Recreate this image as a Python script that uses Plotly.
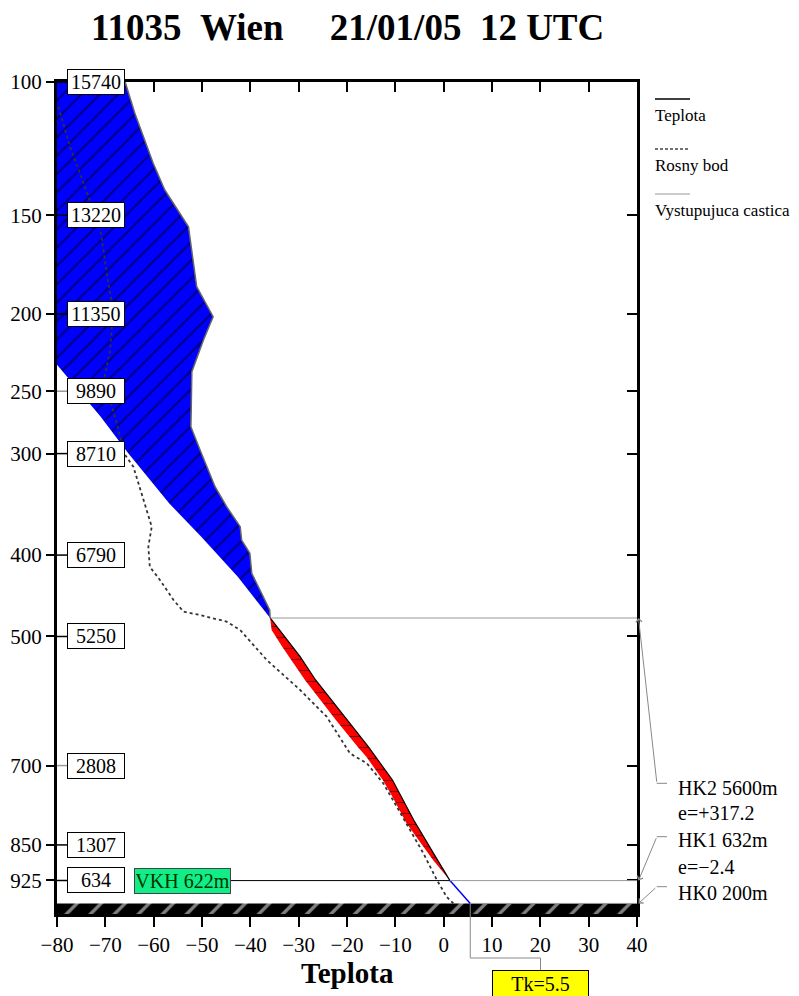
import plotly.graph_objects as go

# ---------------- data ----------------
TITLE = "11035\u00a0\u00a0Wien\u00a0\u00a0\u00a0\u00a0\u00a021/01/05\u00a0\u00a012 UTC"
PRESSURE_LABELS = ["100", "150", "200", "250", "300", "400", "500", "700", "850", "925"]
LEVEL_HEIGHTS = [15740, 13220, 11350, 9890, 8710, 6790, 5250, 2808, 1307, 634]
X_TICKS = [-80, -70, -60, -50, -40, -30, -20, -10, 0, 10, 20, 30, 40]

# environment temperature (Teplota), top -> surface
ENV_H = [15740, 15148, 14202, 13697, 13002, 11867, 11300, 10859, 10259, 9219, 8778, 8084,
         7706, 7328, 7075, 6824, 6445, 6129, 5751, 5600, 5435, 4868, 4427, 4048, 3670, 3165,
         2535, 1778, 1148, 632, 200]
ENV_T = [-65.9, -63.9, -60.1, -57.7, -52.8, -51.1, -47.7, -49.7, -52.1, -52.3, -50.4, -47.3,
         -44.9, -42.1, -41.8, -40.1, -39.7, -38.0, -36.0, -35.9, -34.5, -29.7, -26.5, -23.2, -20.1, -15.6,
         -10.6, -6.2, -2.1, 1.3, 5.5]

# rising parcel (Vystupujuca castica), surface -> top
PARCEL_H = [200, 632, 1022, 1716, 2251, 2535, 2976, 3165, 3670, 4238, 4427, 5057, 5373, 5600,
            6380, 7140, 7770, 8720, 9410, 10390]
PARCEL_T = [5.5, 1.3, -2.2, -7.7, -10.8, -12.6, -16.0, -17.8, -22.3, -27.0, -28.7, -33.4, -35.6, -35.9,
            -42.6, -50.2, -56.8, -65.3, -71.0, -80.0]

# dew point (Rosny bod), top -> surface
DEW_H = [15272, 14516, 13570, 13002, 12121, 11426, 10670, 10100, 9600, 9030, 8683, 8462, 7832,
         7327, 6949, 6570, 6319, 5940, 5719, 5656, 5530, 5373, 4805, 4238, 3733, 3040, 2851,
         2473, 2157, 1589, 1148, 643, 327, 200]
DEW_T = [-79.7, -77.3, -73.5, -71.1, -69.7, -68.4, -69.0, -70.3, -68.6, -67.0, -65.9, -64.2, -62.1,
         -60.4, -61.1, -60.8, -58.7, -55.9, -53.8, -50.4, -44.9, -42.1, -36.6, -29.7, -24.2, -19.4, -15.9,
         -12.5, -10.5, -7.0, -4.2, -1.4, 0.6, 2.0]

HK0_H, HK1_H, HK2_H = 200, 632, 5600
E_HK1, E_HK2 = -2.4, 317.2
VKH_H = 622
TK = 5.5

X_MIN, X_MAX = -80, 40
H_MIN, H_TOP = 0, 15740

# ---------------- geometry helpers (page pixels; page body has an 8px margin) ----------------
OFF = 8
FW, FH = 799 - OFF, 996 - OFF
PLOT_L, PLOT_R, PLOT_T, PLOT_B = 57, 637, 82, 914
ML = PLOT_L - OFF
MT = PLOT_T - OFF
MR = OFF + FW - PLOT_R
MB = OFF + FH - PLOT_B
PW = PLOT_R - PLOT_L
PH = PLOT_B - PLOT_T


def px_x(px):
    return (px - PLOT_L) / PW


def px_y(py):
    return (PLOT_B - py) / PH


def dx(x):
    return (x - X_MIN) / (X_MAX - X_MIN)


def dy(h):
    return (h - H_MIN) / (H_TOP - H_MIN)


SERIF = "Liberation Serif, Times New Roman, serif"

i_apex = ENV_H.index(HK2_H)
i_lcl = ENV_H.index(HK1_H)
p_lcl = PARCEL_H.index(HK1_H)
p_apex = PARCEL_H.index(HK2_H)

fig = go.Figure()

# ground bar
fig.add_trace(go.Scatter(
    x=[X_MIN, X_MAX, X_MAX, X_MIN, X_MIN], y=[H_MIN, H_MIN, HK0_H, HK0_H, H_MIN],
    fill="toself", mode="lines", line=dict(width=0), fillcolor="black",
    fillpattern=dict(shape="/", bgcolor="black", fgcolor="white", size=17, solidity=0.2),
    hoverinfo="skip"))

# blue (negative) area above HK2
bx = ENV_T[:i_apex + 1] + PARCEL_T[p_apex:] + [X_MIN, ENV_T[0]]
by = ENV_H[:i_apex + 1] + PARCEL_H[p_apex:] + [H_TOP, ENV_H[0]]
fig.add_trace(go.Scatter(
    x=bx, y=by, fill="toself", mode="lines", line=dict(width=0), fillcolor="blue",
    fillpattern=dict(shape="/", bgcolor="blue", fgcolor="black", size=13, solidity=0.15),
    hoverinfo="skip"))

# red area between HK1 and HK2
rx = ENV_T[i_apex:i_lcl + 1] + PARCEL_T[p_lcl:p_apex + 1]
ry = ENV_H[i_apex:i_lcl + 1] + PARCEL_H[p_lcl:p_apex + 1]
fig.add_trace(go.Scatter(
    x=rx, y=ry, fill="toself", mode="lines", line=dict(width=0), fillcolor="red",
    fillpattern=dict(shape="-", bgcolor="red", fgcolor="black", size=11, solidity=0.1),
    hoverinfo="skip"))

# dew point
fig.add_trace(go.Scatter(x=DEW_T, y=DEW_H, mode="lines",
                         line=dict(color="#333333", width=1.8, dash="3px,3px"), hoverinfo="skip"))
# temperature curve pieces
fig.add_trace(go.Scatter(x=ENV_T[:i_apex + 1], y=ENV_H[:i_apex + 1], mode="lines",
                         line=dict(color="#666666", width=1.5), hoverinfo="skip"))
fig.add_trace(go.Scatter(x=ENV_T[i_apex:i_lcl + 1], y=ENV_H[i_apex:i_lcl + 1], mode="lines",
                         line=dict(color="black", width=1.2), hoverinfo="skip"))
fig.add_trace(go.Scatter(x=PARCEL_T[:p_lcl + 1], y=PARCEL_H[:p_lcl + 1], mode="lines",
                         line=dict(color="blue", width=1.5), hoverinfo="skip"))

# invisible trace for mirrored axes
fig.add_trace(go.Scatter(x=[X_MIN], y=[H_MIN], xaxis="x2", yaxis="y2", mode="markers",
                         marker=dict(opacity=0), hoverinfo="skip"))

shapes = []
# horizontal level lines
shapes.append(dict(type="line", xref="x", yref="y", x0=ENV_T[i_apex], x1=X_MAX, y0=HK2_H, y1=HK2_H,
                   line=dict(color="#999999", width=1)))
shapes.append(dict(type="line", xref="x", yref="y", x0=-54, x1=ENV_T[i_lcl], y0=HK1_H, y1=HK1_H,
                   line=dict(color="black", width=1)))
shapes.append(dict(type="line", xref="x", yref="y", x0=ENV_T[i_lcl], x1=X_MAX, y0=HK1_H, y1=HK1_H,
                   line=dict(color="#999999", width=1)))
shapes.append(dict(type="line", xref="x", yref="y", x0=TK, x1=X_MAX, y0=HK0_H, y1=HK0_H,
                   line=dict(color="#999999", width=1)))

# connectors from left axis into height boxes
for h, lab in zip(LEVEL_HEIGHTS, PRESSURE_LABELS):
    col = "#999999" if lab in ("250", "700") else "black"
    shapes.append(dict(type="line", xref="paper", yref="y", x0=0, x1=px_x(67), y0=h, y1=h,
                       line=dict(color=col, width=1.5)))

# Tk connector
tx0 = dx(TK)
tbox = px_x(540.5)
shapes.append(dict(type="path", xref="paper", yref="paper",
                   path=f"M{tx0},{dy(HK0_H)} L{tx0},{px_y(958)} L{tbox},{px_y(958)} L{tbox},{px_y(970)}",
                   line=dict(color="#888888", width=1)))

# HK stubs
for ty in (783.3, 836.7, 886.7):
    shapes.append(dict(type="line", xref="paper", yref="paper", x0=px_x(656.7), x1=px_x(667),
                       y0=px_y(ty), y1=px_y(ty), line=dict(color="#888888", width=1)))

# legend samples
shapes.append(dict(type="line", xref="paper", yref="paper", x0=px_x(655), x1=px_x(690),
                   y0=px_y(99), y1=px_y(99), line=dict(color="black", width=1.5)))
shapes.append(dict(type="line", xref="paper", yref="paper", x0=px_x(655), x1=px_x(690),
                   y0=px_y(149), y1=px_y(149), line=dict(color="#444444", width=1.5, dash="3px,2px")))
shapes.append(dict(type="line", xref="paper", yref="paper", x0=px_x(655), x1=px_x(690),
                   y0=px_y(194), y1=px_y(194), line=dict(color="#999999", width=1.2)))

ann = []
ann.append(dict(text=f"<b>{TITLE}</b>", xref="paper", yref="paper", x=0.5, y=px_y(28),
                xanchor="center", yanchor="middle", showarrow=False,
                font=dict(family=SERIF, size=37, color="black")))
ann.append(dict(text="<b>Teplota</b>", xref="paper", yref="paper", x=0.5, y=px_y(973),
                xanchor="center", yanchor="middle", showarrow=False,
                font=dict(family=SERIF, size=29, color="black")))

for h, v in zip(LEVEL_HEIGHTS, LEVEL_HEIGHTS):
    ann.append(dict(text=str(v), xref="paper", yref="y", x=px_x(67), y=h, xanchor="left",
                    yanchor="middle", showarrow=False, width=54, height=22, borderpad=1,
                    bgcolor="white", bordercolor="black", borderwidth=1,
                    font=dict(family=SERIF, size=20, color="black")))

ann.append(dict(text=f"VKH {VKH_H}m", xref="paper", yref="y", x=px_x(134), y=VKH_H, xanchor="left",
                yanchor="middle", showarrow=False, width=93, height=22, borderpad=1,
                bgcolor="#11EE88", bordercolor="#444444", borderwidth=1,
                font=dict(family=SERIF, size=20, color="#003300")))

ann.append(dict(text=f"Tk={TK}", xref="paper", yref="paper", x=tbox, y=px_y(970), xanchor="center",
                yanchor="top", showarrow=False, width=93, height=23, borderpad=1,
                bgcolor="yellow", bordercolor="black", borderwidth=1,
                font=dict(family=SERIF, size=20, color="black")))

right_texts = [(f"HK2 {HK2_H}m", 788), (f"e=+{E_HK2}", 813), (f"HK1 {HK1_H}m", 840),
               (f"e=\u2212{abs(E_HK1)}", 867), (f"HK0 {HK0_H}m", 893)]
for t, yy in right_texts:
    ann.append(dict(text=t, xref="paper", yref="paper", x=px_x(676), y=px_y(yy), xanchor="left",
                    yanchor="middle", showarrow=False, font=dict(family=SERIF, size=20, color="black")))

for hh, ty in ((HK2_H, 783.3), (HK1_H, 836.7), (HK0_H, 886.7)):
    head_py = PLOT_B - dy(hh) * PH
    ann.append(dict(text="", xref="paper", yref="y", x=1.0 + 1.5 / PW, y=hh, showarrow=True,
                    ax=18.4, ay=ty - head_py, axref="pixel", ayref="pixel",
                    arrowhead=4, arrowsize=1.2, arrowwidth=1, arrowcolor="#888888"))

for t, yy in (("Teplota", 116), ("Rosny bod", 165), ("Vystupujuca castica", 210)):
    ann.append(dict(text=t, xref="paper", yref="paper", x=px_x(653), y=px_y(yy), xanchor="left",
                    yanchor="middle", showarrow=False, font=dict(family=SERIF, size=17, color="black")))

axis_font = dict(family=SERIF, size=21, color="black")
fig.update_layout(
    width=FW, height=FH, margin=dict(l=ML, r=MR, t=MT, b=MB),
    paper_bgcolor="white", plot_bgcolor="white", showlegend=False,
    xaxis=dict(range=[X_MIN, X_MAX], tickvals=X_TICKS, ticks="outside", ticklen=10, tickwidth=1.5,
               tickcolor="black", showline=True, linewidth=3, linecolor="black", mirror=True,
               showgrid=False, zeroline=False, tickfont=axis_font, automargin=False),
    yaxis=dict(range=[H_MIN, H_TOP], tickvals=LEVEL_HEIGHTS, ticktext=PRESSURE_LABELS,
               ticks="outside", ticklen=8, tickwidth=1.5, tickcolor="black", showline=True,
               linewidth=3, linecolor="black", mirror=True, showgrid=False, zeroline=False,
               tickfont=axis_font, automargin=False),
    xaxis2=dict(range=[X_MIN, X_MAX], overlaying="x", side="top", anchor="y2", tickvals=X_TICKS,
                ticks="inside", ticklen=10, tickwidth=1.5, tickcolor="black", showticklabels=False,
                showgrid=False, zeroline=False, showline=False),
    yaxis2=dict(range=[H_MIN, H_TOP], overlaying="y", side="right", anchor="x2", tickvals=LEVEL_HEIGHTS,
                ticks="inside", ticklen=10, tickwidth=1.5, tickcolor="black", showticklabels=False,
                showgrid=False, zeroline=False, showline=False),
    shapes=shapes, annotations=ann,
)

fig.write_html("out.html")
